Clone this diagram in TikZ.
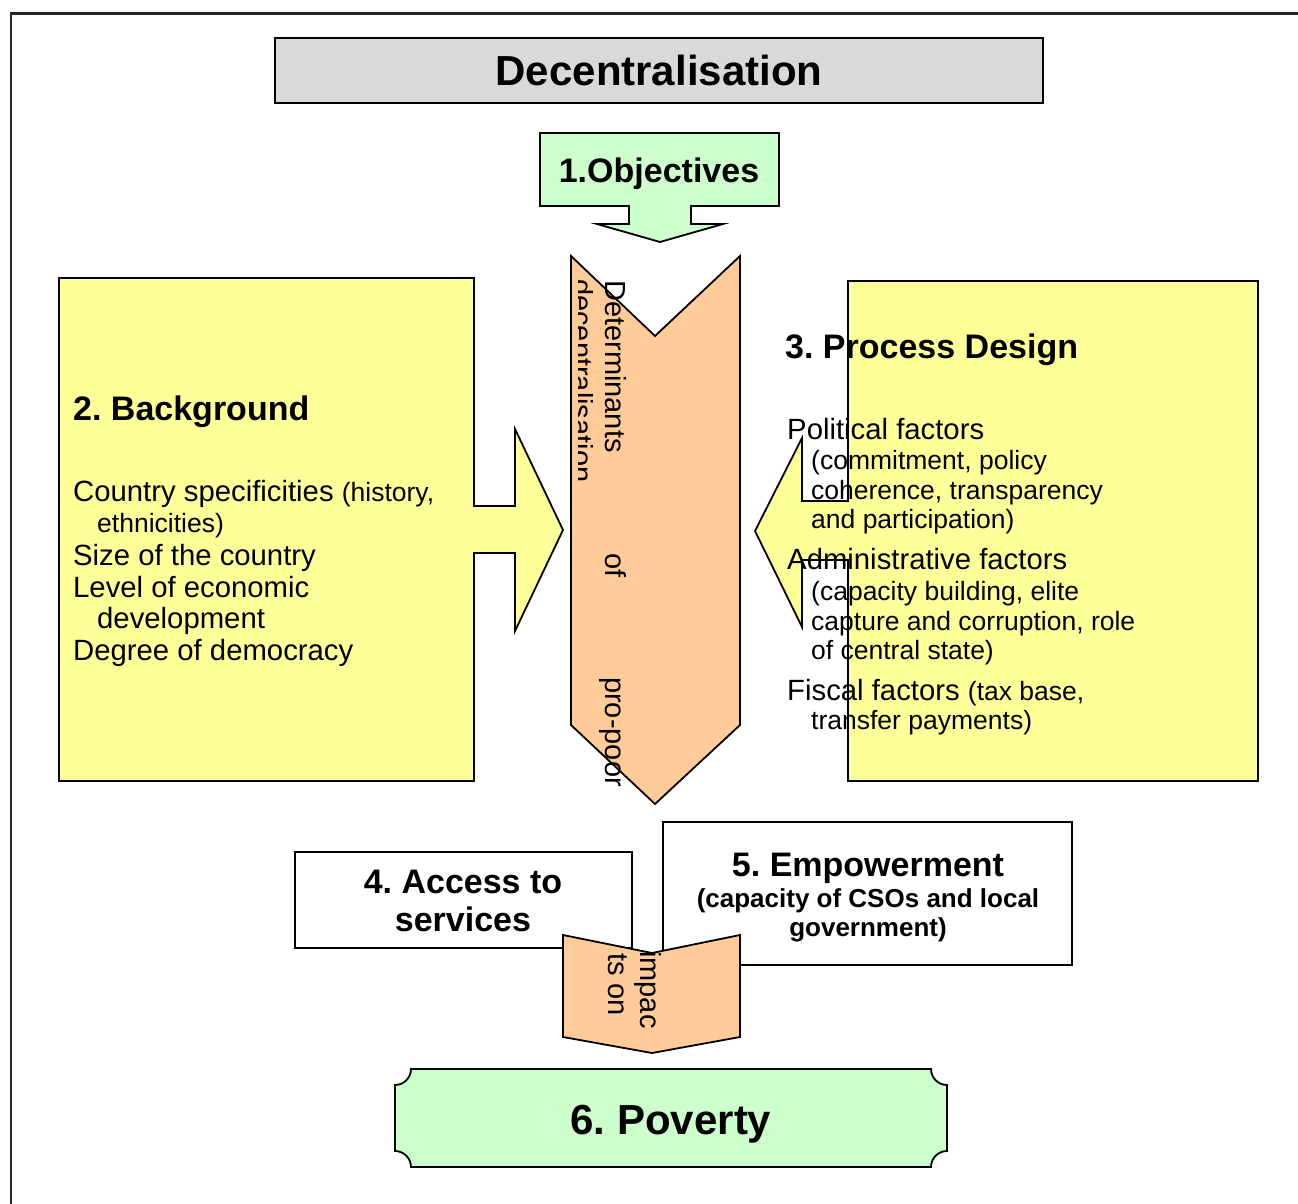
\documentclass[tikz,border=0pt]{standalone}
\usepackage{fontspec}
\setmainfont{Liberation Sans}
\frenchspacing
\definecolor{peach}{HTML}{FFCC99}
\definecolor{lyellow}{HTML}{FFFF99}
\definecolor{lgreen}{HTML}{CCFFCC}
\definecolor{lgray}{HTML}{D9D9D9}
\newcommand{\smallpart}{\fontsize{26.5}{30}\selectfont}
\tikzset{
  shapeline/.style={draw=black, line width=1.8pt, line join=miter},
  bigtext/.style={font=\fontsize{42}{48}\selectfont\bfseries, inner sep=0},
  headtext/.style={font=\fontsize{34}{38}\selectfont\bfseries, inner sep=0},
  boldsub/.style={font=\fontsize{26}{30}\selectfont\bfseries, inner sep=0, anchor=base},
  bodytext/.style={font=\fontsize{29.3}{33}\selectfont, inner sep=0, anchor=base west},
  subtext/.style={font=\fontsize{26.5}{30}\selectfont, inner sep=0, anchor=base west},
  verttext/.style={font=\fontsize{29}{33}\selectfont, inner sep=0, anchor=base west, rotate=-90},
}
\begin{document}
\begin{tikzpicture}[x=1pt,y=-1pt]
\useasboundingbox (0,0) rectangle (1298,1204);
% outer frame
\draw[line width=2.5pt, black!85] (11,1204) -- (11,13.5) -- (1298,13.5);

% Decentralisation
\draw[shapeline, fill=lgray] (275,38) rectangle (1043,103);
\node[bigtext, anchor=base] (dec) at (659,86) {Decentralisation};

% Objectives (down arrow callout)
\draw[shapeline, fill=lgreen] (540,133) -- (779,133) -- (779,206) -- (691,206) -- (691,224)
  -- (723,224) -- (660,242) -- (597,224) -- (629,224) -- (629,206) -- (540,206) -- cycle;
\node[headtext, anchor=base] (obj) at (659,182) {1.Objectives};

% Background (right arrow callout)
\draw[shapeline, fill=lyellow] (59,278) -- (474,278) -- (474,506) -- (515,506) -- (515,429)
  -- (563,530) -- (515,631) -- (515,553) -- (474,553) -- (474,781) -- (59,781) -- cycle;
\node[headtext, anchor=base west] (bgh) at (73,420) {2. Background};
\node[bodytext] (bg1) at (73,501) {Country specificities {\smallpart(history,}};
\node[subtext] (bg1b) at (97,532) {ethnicities)};
\node[bodytext] (bg2) at (73,565) {Size of the country};
\node[bodytext] (bg3) at (73,597) {Level of economic};
\node[bodytext] (bg3b) at (97,628) {development};
\node[bodytext] (bg4) at (73,660) {Degree of democracy};

% Process design (left arrow callout)
\draw[shapeline, fill=lyellow] (848,281) -- (1258,281) -- (1258,781) -- (848,781) -- (848,560)
  -- (802,560) -- (802,627) -- (755,531) -- (802,438) -- (802,501) -- (848,501) -- cycle;
\node[headtext, anchor=base west] (pdh) at (785,358) {3. Process Design};
\node[bodytext] (pd1) at (787,439) {Political factors};
\node[subtext] (pd1a) at (811,469) {(commitment, policy};
\node[subtext] (pd1b) at (811,499) {coherence, transparency};
\node[subtext] (pd1c) at (811,528) {and participation)};
\node[bodytext] (pd2) at (787,569) {Administrative factors};
\node[subtext] (pd2a) at (811,600) {(capacity building, elite};
\node[subtext] (pd2b) at (811,630) {capture and corruption, role};
\node[subtext] (pd2c) at (811,659) {of central state)};
\node[bodytext] (pd3) at (787,700) {Fiscal factors {\smallpart(tax base,}};
\node[subtext] (pd3a) at (811,729) {transfer payments)};

% central chevron
\draw[shapeline, fill=peach] (571,256) -- (655,336) -- (740,256) -- (740,725) -- (655,804)
  -- (571,725) -- cycle;
\node[verttext] (det) at (605,280) {Determinants};
\node[verttext] (of) at (605,553) {of};
\node[verttext] (pp) at (605,677) {pro-poor};
\begin{scope}
  \clip (578,270) rectangle (600,483);
  \node[verttext] (decz) at (572,279) {decentralisation};
\end{scope}

% Access to services
\draw[shapeline, fill=white] (295,852) rectangle (632,948);
\node[headtext, anchor=base] (acc1) at (463,893) {4. Access to};
\node[headtext, anchor=base] (acc2) at (463,931) {services};

% Empowerment
\draw[shapeline, fill=white] (663,822) rectangle (1072,965);
\node[headtext, anchor=base] (emp1) at (868,876) {5. Empowerment};
\node[boldsub] (emp2) at (868,907) {(capacity of CSOs and local};
\node[boldsub] (emp3) at (868,936) {government)};

% impacts on
\draw[shapeline, fill=peach] (563,935) -- (652,953) -- (740,935) -- (740,1037) -- (652,1053)
  -- (563,1037) -- cycle;
\node[verttext] (imp1) at (640,951) {impac};
\node[verttext] (imp2) at (608,953) {ts on};

% Poverty plaque
\draw[shapeline, fill=lgreen] (411,1069) -- (931,1069)
  .. controls (931,1077.8) and (938.2,1085) .. (947,1085) -- (947,1151)
  .. controls (938.2,1151) and (931,1158.2) .. (931,1167) -- (411,1167)
  .. controls (411,1158.2) and (403.8,1151) .. (395,1151) -- (395,1085)
  .. controls (403.8,1085) and (411,1077.8) .. (411,1069) -- cycle;
\node[bigtext, anchor=base] (pov) at (671,1134) {6. Poverty};
\end{tikzpicture}
\end{document}
